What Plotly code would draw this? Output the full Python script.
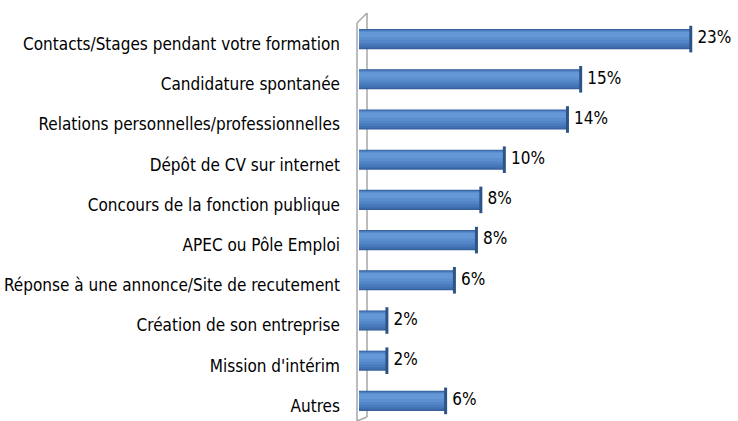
import plotly.graph_objects as go

categories = [
    "Contacts/Stages pendant votre formation",
    "Candidature spontanée",
    "Relations personnelles/professionnelles",
    "Dépôt de CV sur internet",
    "Concours de la fonction publique",
    "APEC ou Pôle Emploi",
    "Réponse à une annonce/Site de recutement",
    "Création de son entreprise",
    "Mission d'intérim",
    "Autres",
]
values = [22.6, 15.1, 14.2, 9.9, 8.3, 8.0, 6.5, 1.9, 1.9, 5.9]
labels = ["23%", "15%", "14%", "10%", "8%", "8%", "6%", "2%", "2%", "6%"]

FONT = "DejaVu Sans Condensed"
W, H = 738, 421
L, R, T, B = 359, 12, 19, 0

fig = go.Figure()
# cylinder shading layers: (offset, width, colour)
layers = [
    (-0.25, 0.50, "#36619C"),
    (-0.235, 0.45, "#4070B0"),
    (-0.22, 0.38, "#4A7BBE"),
    (-0.205, 0.30, "#5386C8"),
    (-0.19, 0.22, "#5B8FD0"),
    (-0.175, 0.13, "#6598D7"),
]
for off, wd, col in layers:
    fig.add_trace(go.Bar(y=categories, x=values, orientation="h", width=wd, offset=off,
                         marker=dict(color=col, line=dict(width=0)),
                         hoverinfo="skip", showlegend=False))
# end caps
fig.add_trace(go.Scatter(y=categories, x=values, mode="markers",
                         marker=dict(symbol="line-ns", size=19,
                                     line=dict(width=3, color="#2E5487")),
                         hoverinfo="skip", showlegend=False, cliponaxis=False))
# value labels (invisible marker sets the gap to the bar end)
fig.add_trace(go.Scatter(y=categories, x=values, mode="markers+text",
                         marker=dict(size=9, opacity=0),
                         text=labels, textposition="middle right",
                         textfont=dict(family=FONT, size=17, color="#000000"),
                         hoverinfo="skip", showlegend=False, cliponaxis=False))

# 3D wall outline
lx = (357 - L) / (W - L - R)
rx = (367 - L) / (W - L - R)
ph = H - T - B
def py(p):
    return (H - B - p) / ph
line = dict(color="#A6A6A6", width=1.5)
fig.add_shape(type="line", xref="paper", yref="paper", x0=lx, x1=lx, y0=py(23), y1=py(421), line=line)
fig.add_shape(type="line", xref="paper", yref="paper", x0=rx, x1=rx, y0=py(13), y1=py(417), line=line, layer="below")
fig.add_shape(type="line", xref="paper", yref="paper", x0=lx, x1=rx, y0=py(23), y1=py(13), line=line)
fig.add_shape(type="line", xref="paper", yref="paper", x0=lx, x1=rx, y0=py(421), y1=py(417), line=line)

fig.update_layout(
    width=W, height=H,
    margin=dict(l=L, r=R, t=T, b=B, pad=0, autoexpand=False),
    barmode="overlay",
    plot_bgcolor="white", paper_bgcolor="white",
    font=dict(family=FONT, size=17, color="#000000"),
    xaxis=dict(range=[0, 25], visible=False, fixedrange=True, automargin=False),
    yaxis=dict(range=[len(categories) - 0.5, -0.5], showgrid=False, zeroline=False,
               showline=False, automargin=False, ticks="", ticklabelstandoff=18,
               ticklabelshift=-5, fixedrange=True,
               tickfont=dict(family=FONT, size=17, color="#000000")),
)

fig.write_html("out.html", config={"displayModeBar": False},
               post_script="document.body.style.margin='0';document.body.style.overflow='hidden';")
